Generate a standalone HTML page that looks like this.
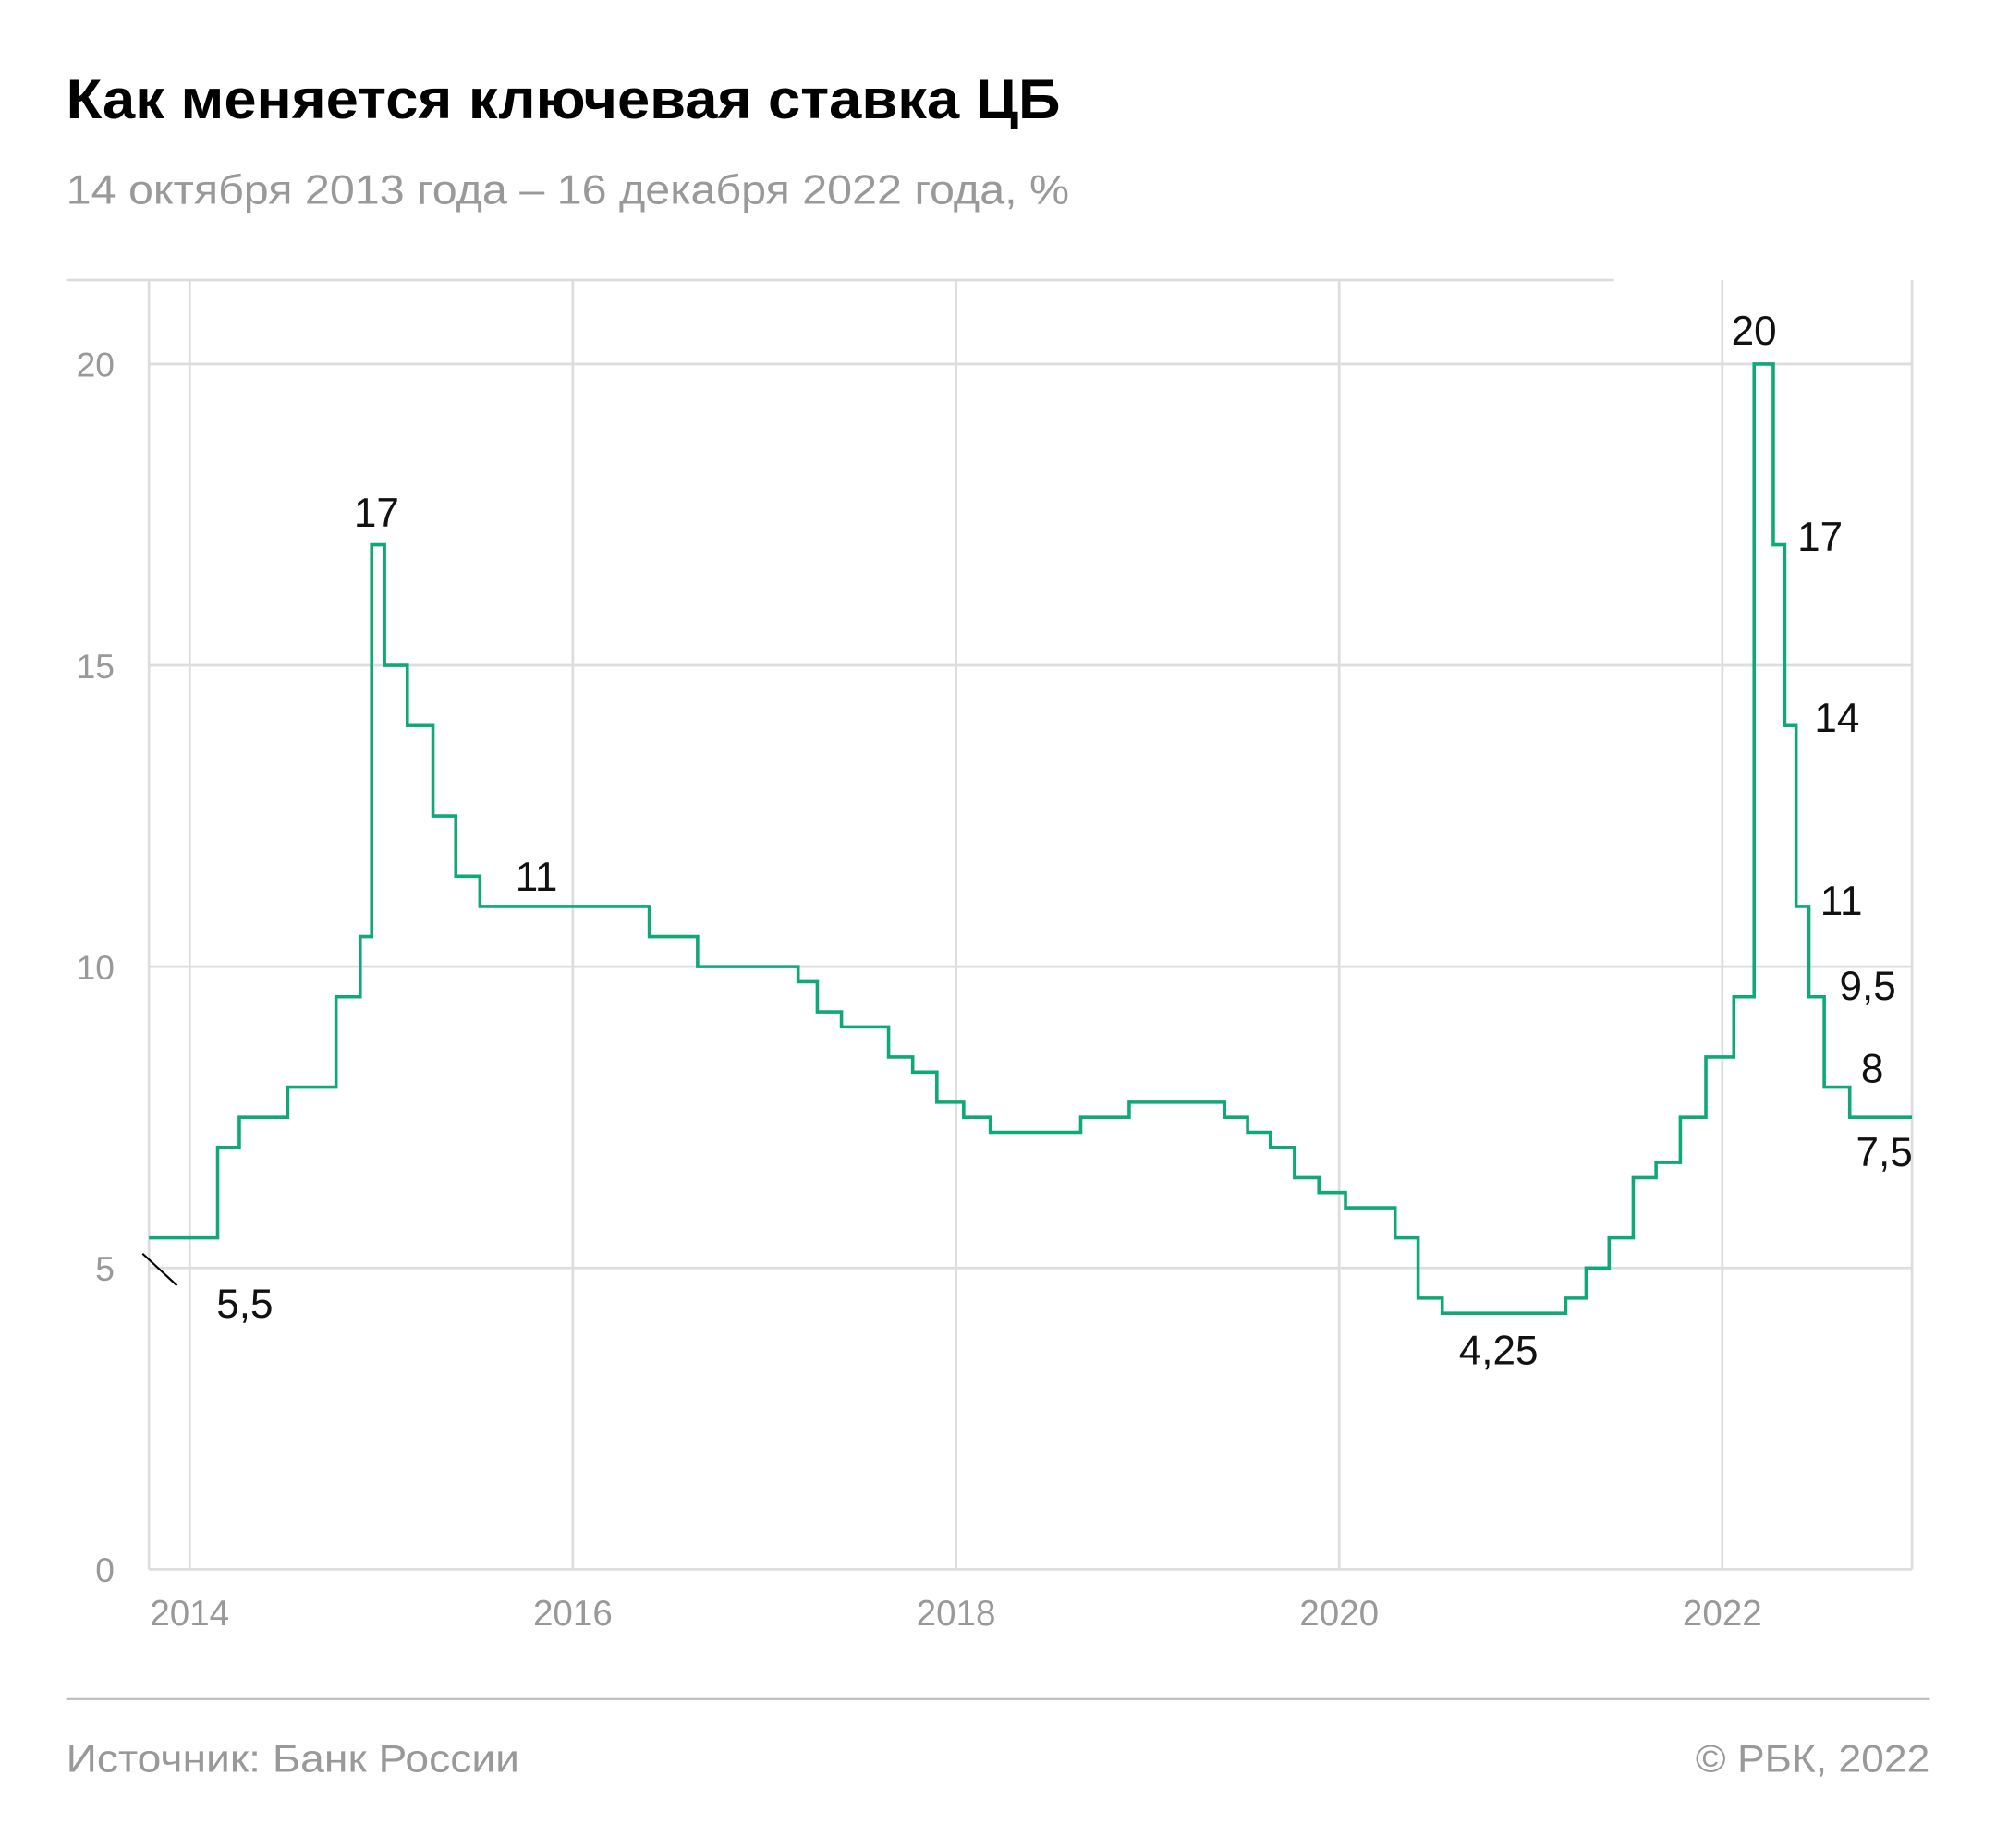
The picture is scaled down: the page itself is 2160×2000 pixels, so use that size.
<!DOCTYPE html>
<html><head><meta charset="utf-8"><style>
html,body{margin:0;padding:0;background:#fff;}
svg{display:block;font-family:"Liberation Sans",sans-serif;}
</style></head><body>
<svg id="chart" width="2160" height="2000" viewBox="0 0 1568 1452" preserveAspectRatio="none" xmlns="http://www.w3.org/2000/svg">
<rect width="1568" height="1452" fill="#fff"/>
<text x="52" y="93" font-size="44" font-weight="bold" fill="#000" textLength="781" lengthAdjust="spacingAndGlyphs">Как меняется ключевая ставка ЦБ</text>
<text x="52" y="160" font-size="32" fill="#999" textLength="788" lengthAdjust="spacingAndGlyphs">14 октября 2013 года – 16 декабря 2022 года, %</text>
<line x1="52" y1="220" x2="1268" y2="220" stroke="#ddd" stroke-width="2"/>
<g id="grid"></g>
<g id="axes"></g>
<path id="series" fill="none" stroke="#0fa877" stroke-width="2.6"/>
<line x1="112" y1="985" x2="139" y2="1010" stroke="#000" stroke-width="1.6"/>
<g id="labels"></g>
<line x1="52" y1="1335" x2="1516" y2="1335" stroke="#bbb" stroke-width="1.5"/>
<text x="52" y="1392" font-size="30" fill="#999" textLength="356" lengthAdjust="spacingAndGlyphs">Источник: Банк России</text>
<text x="1332" y="1392" font-size="30" fill="#999" textLength="184" lengthAdjust="spacingAndGlyphs">© РБК, 2022</text>
</svg>
<script>
const dates=[2013.7863,2014.146,2014.259,2014.512,2014.764,2014.89,2014.95,2015.017,2015.136,2015.27,2015.389,2015.515,2016.399,2016.651,2017.176,2017.276,2017.402,2017.648,2017.774,2017.9,2018.04,2018.179,2018.651,2018.904,2019.402,2019.522,2019.641,2019.767,2019.894,2020.033,2020.292,2020.412,2020.538,2021.183,2021.289,2021.409,2021.535,2021.654,2021.781,2021.914,2022.06,2022.166,2022.266,2022.326,2022.385,2022.452,2022.532,2022.665];
const rates=[5.5,7,7.5,8,9.5,10.5,17,15,14,12.5,11.5,11,10.5,10,9.75,9.25,9,8.5,8.25,7.75,7.5,7.25,7.5,7.75,7.5,7.25,7,6.5,6.25,6,5.5,4.5,4.25,4.5,5,5.5,6.5,6.75,7.5,8.5,9.5,20,17,14,11,9.5,8,7.5];
const yTicks=[0,5,10,15,20];
const xTicks=[2014,2016,2018,2020,2022];
const annoText=["5,5","17","11","4,25","20","17","14","11","9,5","8","7,5"];
const annoDate=[2014.14,2014.857,2015.70,2020.625,2022.047,2022.392,2022.48,2022.511,2022.611,2022.724,2022.698];
const annoVal=[4.39,17.51,11.47,3.61,20.53,17.11,14.11,11.07,9.66,8.29,6.90];
const X0=117,X1=1502,D0=2013.7863,D1=2022.99,Y0=1233,Y20=286;
function xs(t){return 149+(t-2014)*150.5;}
function ys(v){return Y0+(Y20-Y0)*v/20;}
const NS="http://www.w3.org/2000/svg";
function mk(tag,attrs,parent){const e=document.createElementNS(NS,tag);for(const k in attrs)e.setAttribute(k,attrs[k]);parent.appendChild(e);return e;}
const grid=document.getElementById('grid'),axes=document.getElementById('axes'),labels=document.getElementById('labels');
yTicks.forEach(v=>{
 if(v>0){const l=mk('line',{x1:X0,x2:X1,y1:ys(v),y2:ys(v),stroke:'#ddd','stroke-width':2},grid);
 
 }
 const t=mk('text',{x:90,y:ys(v)+10,'font-size':27,fill:'#999','text-anchor':'end'},axes);
 t.textContent=v;
 
 
});
xTicks.forEach(yr=>{
 const l=mk('line',{x1:xs(yr),x2:xs(yr),y1:220,y2:Y0,stroke:'#ddd','stroke-width':2},grid);
 
 
 const t=mk('text',{x:xs(yr),y:1277,'font-size':28,fill:'#999','text-anchor':'middle'},axes);
 t.textContent=yr;
 
 
});
[[X0,220,X0,Y0],[X1,220,X1,Y0],[X0,Y0,X1,Y0]].forEach(c=>{
 const l=mk('line',{x1:c[0],y1:c[1],x2:c[2],y2:c[3],stroke:'#ddd','stroke-width':2},axes);
 
 
});
let d="";
for(let i=0;i<dates.length;i++){
 const x=Math.max(X0,xs(dates[i])),y=ys(rates[i]);
 if(i===0)d+="M"+X0+","+y;else d+="H"+x+"V"+y;
}
d+="H"+X1;
document.getElementById('series').setAttribute('d',d);
annoText.forEach((s,i)=>{
 const t=mk('text',{x:xs(annoDate[i]),y:ys(annoVal[i])+10,'font-size':32,fill:'#111'},labels);
 t.textContent=s;
 
 
});
</script>
</body></html>
